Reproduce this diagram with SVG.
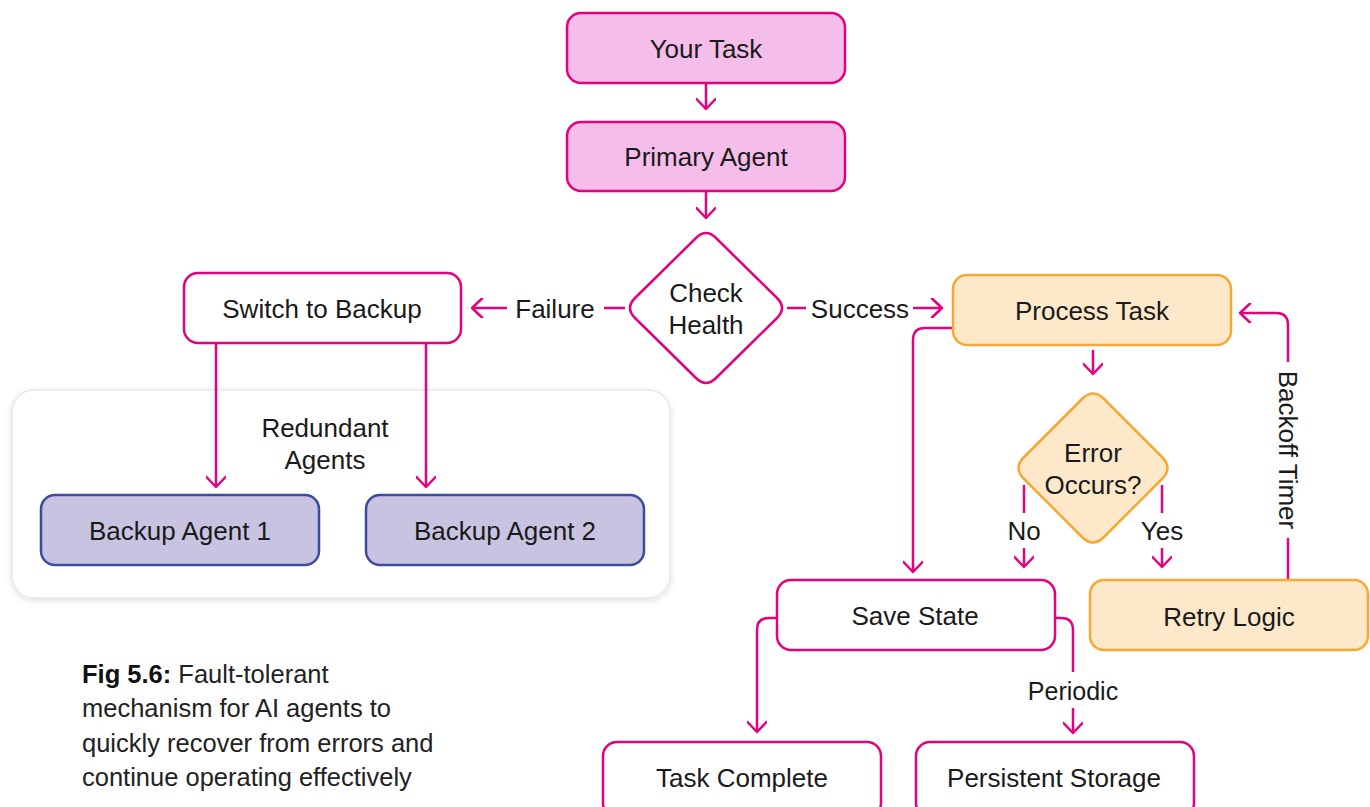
<svg xmlns="http://www.w3.org/2000/svg" width="1370" height="807" viewBox="0 0 1370 807">
<defs>
<marker id="ah" viewBox="0 0 20 20" refX="18" refY="10" markerWidth="20" markerHeight="20" markerUnits="userSpaceOnUse" orient="auto">
<path d="M8,0.5 L18,10 L8,19.5" fill="none" stroke="#e5007d" stroke-width="2.5" stroke-linecap="round" stroke-linejoin="round"/>
</marker>
<filter id="sh" x="-10%" y="-10%" width="120%" height="130%">
<feDropShadow dx="0" dy="2" stdDeviation="3" flood-color="#000" flood-opacity="0.12"/>
</filter>
</defs>
<style>
text{font-family:"Liberation Sans",Arial,sans-serif;font-size:26px;fill:#1a1a1a;text-anchor:middle}
.pink{fill:#f5bde9;stroke:#e5007d;stroke-width:2.5}
.white{fill:#fff;stroke:#e5007d;stroke-width:2.5}
.orange{fill:#fde8c9;stroke:#f7a833;stroke-width:2.5}
.purple{fill:#c9c3e2;stroke:#3c4b9b;stroke-width:2.5}
.c{fill:none;stroke:#e5007d;stroke-width:2.5}
.cap{text-anchor:start;font-size:25.5px;fill:#222}
</style>
<rect width="1370" height="807" fill="#fff"/>
<g id="redundant-agents">
<rect x="12" y="390" width="658" height="208" rx="22" fill="#fff" stroke="#e8e8e8" stroke-width="1.5" filter="url(#sh)"/>
<text x="325" y="437">Redundant</text>
<text x="325" y="469">Agents</text>
</g>
<g id="connectors">
<path class="c" d="M706,83 L706,109" marker-end="url(#ah)"/>
<path class="c" d="M706,191 L706,218" marker-end="url(#ah)"/>
<path class="c" d="M625,308 L604,308"/>
<path class="c" d="M507,308 L472,308" marker-end="url(#ah)"/>
<path class="c" d="M787,308 L806,308"/>
<path class="c" d="M913,308 L942,308" marker-end="url(#ah)"/>
<path class="c" d="M1093,350 L1093,374" marker-end="url(#ah)"/>
<path class="c" d="M953,328 L925,328 Q913,328 913,340 L913,572" marker-end="url(#ah)"/>
<path class="c" d="M1024,485 L1024,513"/>
<path class="c" d="M1024,548 L1024,567" marker-end="url(#ah)"/>
<path class="c" d="M1162,485 L1162,513"/>
<path class="c" d="M1162,548 L1162,567" marker-end="url(#ah)"/>
<path class="c" d="M1288,580 L1288,538"/>
<path class="c" d="M1288,362 L1288,325 Q1288,313 1276,313 L1240,313" marker-end="url(#ah)"/>
<path class="c" d="M216,343 L216,487" marker-end="url(#ah)"/>
<path class="c" d="M426,343 L426,487" marker-end="url(#ah)"/>
<path class="c" d="M777,618 L769,618 Q757,618 757,630 L757,732" marker-end="url(#ah)"/>
<path class="c" d="M1055,618 L1061,618 Q1073,618 1073,630 L1073,672"/>
<path class="c" d="M1073,708 L1073,733" marker-end="url(#ah)"/>
<text x="555" y="318">Failure</text>
<text x="860" y="318">Success</text>
<text x="1024" y="540">No</text>
<text x="1162" y="540">Yes</text>
<text transform="translate(1288,450) rotate(90)" y="9">Backoff Timer</text>
<text x="1073" y="700" style="font-size:25px">Periodic</text>
</g>
<g id="your-task">
<rect class="pink" x="567" y="13" width="278" height="70" rx="14"/>
<text x="706" y="58">Your Task</text>
</g>
<g id="primary-agent">
<rect class="pink" x="567" y="122" width="278" height="69" rx="14"/>
<text x="706" y="166">Primary Agent</text>
</g>
<g id="check-health">
<path class="white" d="M696,238 Q706,228 716,238 L777,298 Q787,308 777,318 L716,378 Q706,388 696,378 L635,318 Q625,308 635,298 Z"/>
<text x="706" y="302">Check</text>
<text x="706" y="334">Health</text>
</g>
<g id="switch-to-backup">
<rect class="white" x="184" y="273" width="277" height="70" rx="14"/>
<text x="322" y="318">Switch to Backup</text>
</g>
<g id="process-task">
<rect class="orange" x="953" y="275" width="278" height="70" rx="14"/>
<text x="1092" y="320">Process Task</text>
</g>
<g id="error-occurs">
<path class="orange" d="M1082,399 Q1093,388 1104,399 L1162,457 Q1173,468 1162,479 L1104,537 Q1093,548 1082,537 L1024,479 Q1013,468 1024,457 Z"/>
<text x="1093" y="462">Error</text>
<text x="1093" y="494">Occurs?</text>
</g>
<g id="backup-agent-1">
<rect class="purple" x="41" y="495" width="278" height="70" rx="14"/>
<text x="180" y="540">Backup Agent 1</text>
</g>
<g id="backup-agent-2">
<rect class="purple" x="366" y="495" width="278" height="70" rx="14"/>
<text x="505" y="540">Backup Agent 2</text>
</g>
<g id="save-state">
<rect class="white" x="777" y="580" width="278" height="70" rx="14"/>
<text x="915" y="625">Save State</text>
</g>
<g id="retry-logic">
<rect class="orange" x="1090" y="580" width="278" height="70" rx="14"/>
<text x="1229" y="626">Retry Logic</text>
</g>
<g id="task-complete">
<rect class="white" x="603" y="742" width="278" height="75" rx="14"/>
<text x="742" y="787">Task Complete</text>
</g>
<g id="persistent-storage">
<rect class="white" x="916" y="742" width="278" height="75" rx="14"/>
<text x="1054" y="787">Persistent Storage</text>
</g>
<g id="caption">
<text class="cap" x="82" y="683"><tspan font-weight="bold" fill="#111">Fig 5.6:</tspan> Fault-tolerant</text>
<text class="cap" x="82" y="717">mechanism for AI agents to</text>
<text class="cap" x="82" y="752">quickly recover from errors and</text>
<text class="cap" x="82" y="786">continue operating effectively</text>
</g>
</svg>
